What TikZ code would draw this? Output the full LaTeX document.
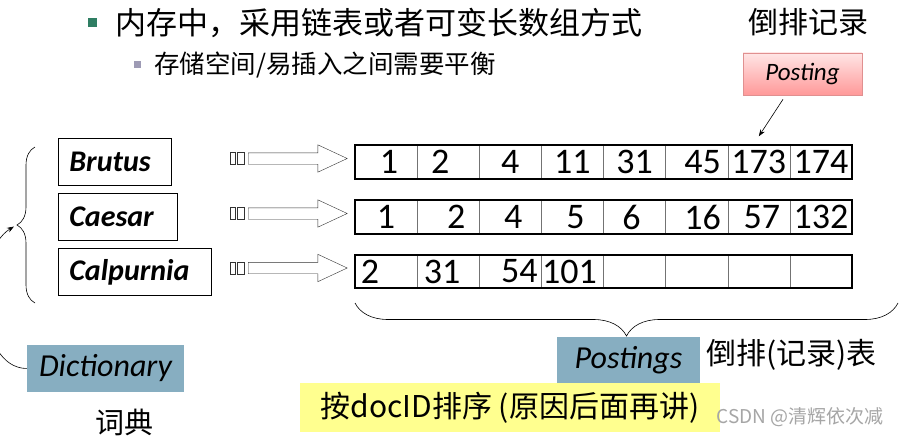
\documentclass[tikz,border=0pt]{standalone}
\usepackage{fontspec}
\setmainfont{Carlito}
\newfontfamily\cjk{Noto Sans CJK SC}
\usetikzlibrary{arrows.meta, backgrounds, positioning, shapes.arrows, decorations.pathreplacing}

\definecolor{bulletgreen}{HTML}{2F7E63}
\definecolor{bulletgrey}{HTML}{9E9BB5}
\definecolor{dictblue}{HTML}{87AEC1}
\definecolor{postred}{HTML}{E09090}
\definecolor{noteyellow}{HTML}{FFFF8F}

\begin{document}
\begin{tikzpicture}[
            x=1pt, y=-1pt,
            background rectangle/.style={fill=white},
            show background rectangle,
            inner frame sep=0pt,
            semithick,
            >={Stealth[length=7pt, width=5pt]},
            cjktext/.style={inner sep=0pt, font=\cjk\fontsize{#1}{#1}\selectfont},
            termbox/.style={draw, thick, minimum height=47pt, inner xsep=11pt,
                align=left, font=\bfseries\itshape\fontsize{30}{36}\selectfont},
            cell/.style={draw=black!55, thin, minimum width=62.125pt,
                minimum height=33pt, inner sep=0pt},
            num/.style={inner sep=0pt, font=\fontsize{36}{42}\selectfont},
            bigarrow/.style={single arrow, draw=black!80, thin, minimum height=99pt,
                inner xsep=0pt, inner ysep=5.5pt, single arrow head extend=8pt,
                single arrow tip angle=50, anchor=tail},
            dotbox/.style={draw=black!80, thin, minimum height=12pt, inner sep=0pt},
            labelbox/.style={fill=dictblue, minimum height=47pt,
                font=\itshape\fontsize{32}{38}\selectfont}
        ]
        \useasboundingbox (0,0) rectangle (901,436);

        % bullets
        \node[fill=bulletgreen, minimum size=9pt, inner sep=0pt] (bul1) at (92,23) {};
        \node[cjktext=31, anchor=west] (title) at (115,23) {内存中，采用链表或者可变长数组方式};
        \node[fill=bulletgrey, minimum size=7pt, inner sep=0pt] (bul2) at (137,64) {};
        \node[cjktext=25.5, anchor=west] (subtitle) at (154,65) {存储空间/易插入之间需要平衡};

        \node[cjktext=30] (postrec) at (808,22) {倒排记录};
        \node[draw=postred, top color=red!10, bottom color=red!40,
              minimum width=119pt, minimum height=42pt,
              font=\itshape\fontsize{25}{30}\selectfont] (posting) at (802.5,74) {Posting};

        % dictionary terms
        \node[termbox, text width=91pt, anchor=west] (brutus) at (58,161.5) {Brutus};
        \node[termbox, text width=97pt, below=7.5pt of brutus.south west, anchor=north west] (caesar) {Caesar};
        \node[termbox, text width=131pt, below=7.5pt of caesar.south west, anchor=north west] (calpurnia) {Calpurnia};

        % postings lists
        \foreach \r/\y in {1/162, 2/217, 3/271.5} {
            \foreach \c in {1,...,8}
                \node[cell] (r\r c\c) at ({355+62.125*(\c-0.5)}, \y) {};
            \draw[line width=2.2pt] (r\r c1.north west) rectangle (r\r c8.south east);
            \node[dotbox, minimum width=5pt] (dot\r a) at (232.5,\y-3.5) {};
            \node[dotbox, minimum width=7pt] (dot\r b) at (240.5,\y-3.5) {};
            \node[bigarrow] (arr\r) at (248,\y-3.5) {};
        }
        \foreach \c/\n/\dx in {1/1/3, 2/2/-8, 3/4/0, 4/11/0, 5/31/0, 6/45/6, 7/173/0, 8/174/0}
            \node[num] (n1\c) at ([xshift=\dx pt]r1c\c) {\n};
        \foreach \c/\n/\dx in {1/1/0, 2/2/8, 3/4/3, 4/5/3, 5/6/-3, 6/16/6, 7/57/3, 8/132/0}
            \node[num] (n2\c) at ([xshift=\dx pt]r2c\c) {\n};
        \foreach \c/\n/\dx in {1/2/-16, 2/31/-6, 3/54/9, 4/101/-3}
            \node[num] (n3\c) at ([xshift=\dx pt]r3c\c) {\n};

        \path[->] ([xshift=-19.5pt, yshift=-4pt]posting.south) edge ([yshift=9pt]r1c7.north);

        % braces
        \coordinate (ltop) at (35,147);
        \coordinate (lbot) at (35,303);
        \coordinate (ltip) at (14,226.5);
        \draw[decorate, decoration={brace, amplitude=18pt}] (lbot) -- (ltop);
        \coordinate (bleft) at (355,303);
        \coordinate (bright) at (898,303);
        \draw[decorate, decoration={brace, amplitude=33pt}] (bright) -- (bleft);

        % labels
        \node[labelbox, minimum width=157pt] (dictionary) at (105.5,368.5) {Dictionary};
        \node[cjktext=29] (cidian) at (124,422) {词典};
        \draw[->] (dictionary.west) .. controls (-24,368) and (-28,252) .. (ltip);

        \node[labelbox, minimum width=143pt] (postings) at (628.5,360) {Postings};
        \node[cjktext=30, right=6pt of postings.east, anchor=west, yshift=5pt] (ptable) {倒排(记录)表};

        \node[fill=noteyellow, minimum width=420pt, minimum height=49pt,
              cjktext=30] (sortnote) at (510,407.5) {按docID排序 (原因后面再讲)};
        \node[cjktext=19, text=black!35] (mark) at (800,417) {CSDN @清辉依次减};

    \end{tikzpicture}
\end{document}
